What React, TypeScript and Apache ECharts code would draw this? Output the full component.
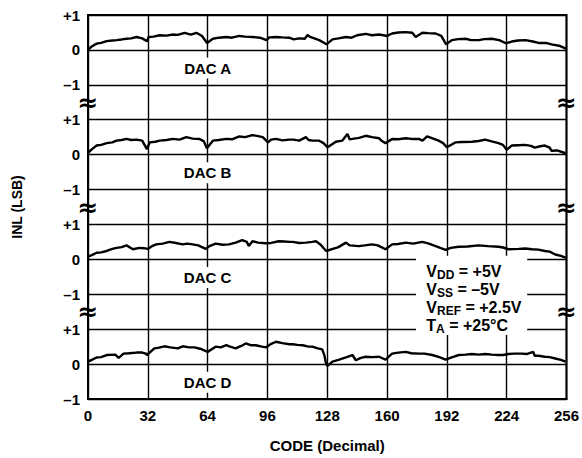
import React, { useEffect, useRef } from "react";
import * as echarts from "echarts";

const dacNames = ["DAC A", "DAC B", "DAC C", "DAC D"];
const yTickLabels = ["–1", "0", "+1"];
const xMin = 0;
const xMax = 256;
const xStep = 32;

const dacA: number[][] = [
  [0, 0.0], [2, 0.1], [4.6, 0.18], [7, 0.2], [10, 0.25], [13, 0.27], [15.3, 0.28], [18, 0.3], [20.6, 0.32], [23, 0.33],
  [26, 0.37], [29, 0.33], [31.5, 0.25], [32.5, 0.37], [35, 0.38], [38.4, 0.42], [42, 0.41], [45.5, 0.44], [48, 0.43],
  [51.7, 0.49], [55, 0.44], [58, 0.49], [61, 0.4], [63.7, 0.2], [66.8, 0.32], [70, 0.35], [74, 0.37], [77, 0.35],
  [81, 0.4], [84, 0.38], [88, 0.37], [92, 0.35], [95.5, 0.28], [97, 0.36], [100.6, 0.37], [104, 0.36], [107.7, 0.35],
  [110, 0.3], [113, 0.33], [116, 0.32], [117.5, 0.43], [118.5, 0.38], [123.7, 0.28], [127.6, 0.16], [130.8, 0.3],
  [134, 0.33], [138, 0.37], [141, 0.35], [144, 0.42], [148.6, 0.46], [152, 0.42], [155.7, 0.44], [158, 0.42], [160, 0.4],
  [162.7, 0.47], [166, 0.5], [170, 0.51], [173.5, 0.49], [175.3, 0.37], [178.9, 0.49], [182, 0.48], [186, 0.47],
  [189, 0.4], [191.6, 0.16], [194.7, 0.28], [198, 0.31], [202, 0.32], [205, 0.28], [209, 0.28], [212, 0.31], [216, 0.32],
  [220, 0.28], [223.6, 0.19], [226.7, 0.24], [230, 0.27], [234, 0.28], [238, 0.24], [241, 0.2], [245, 0.2], [248, 0.16],
  [252, 0.12], [256, 0.03],
];

const dacB: number[][] = [
  [0, 0.05], [2, 0.15], [4.6, 0.26], [7, 0.28], [10, 0.33], [13, 0.35], [15.3, 0.4], [18, 0.42], [20.6, 0.45], [23, 0.42],
  [26, 0.43], [29, 0.4], [31.5, 0.16], [33, 0.35], [36, 0.37], [38.4, 0.4], [42, 0.42], [45.5, 0.45], [49, 0.43],
  [52.6, 0.5], [56, 0.46], [59.7, 0.45], [62, 0.38], [63.6, 0.18], [66.8, 0.4], [70, 0.42], [74, 0.45], [77, 0.44],
  [81, 0.52], [84, 0.5], [88, 0.56], [91, 0.53], [93.5, 0.5], [96.3, 0.35], [98, 0.43], [100.6, 0.45], [104, 0.41],
  [107.7, 0.43], [110, 0.43], [113, 0.4], [116.6, 0.5], [118, 0.42], [120, 0.4], [123.7, 0.4], [126, 0.33], [128.2, 0.21],
  [132.6, 0.37], [136, 0.4], [138.8, 0.59], [140, 0.44], [141.5, 0.45], [145, 0.48], [148.6, 0.54], [152, 0.5],
  [155.7, 0.47], [157, 0.4], [159.2, 0.33], [162.7, 0.45], [166, 0.44], [170, 0.47], [173, 0.45], [177, 0.45], [179, 0.4],
  [181.4, 0.52], [184, 0.47], [187.6, 0.4], [190, 0.33], [192, 0.21], [196.5, 0.35], [200, 0.36], [205.4, 0.37],
  [209, 0.39], [212.5, 0.43], [216, 0.38], [219.6, 0.33], [222, 0.28], [224, 0.14], [226.7, 0.26], [230, 0.27],
  [233.8, 0.28], [237, 0.25], [239, 0.2], [242, 0.24], [244.4, 0.26], [247, 0.2], [248, 0.11], [251, 0.12], [255.5, 0.04],
];

const dacC: number[][] = [
  [0, 0.08], [2, 0.12], [4.6, 0.19], [7, 0.2], [10, 0.24], [13, 0.3], [15.3, 0.33], [18, 0.35], [20.6, 0.4], [24, 0.29],
  [27.5, 0.33], [30, 0.32], [32, 0.3], [34, 0.37], [36.5, 0.43], [40, 0.45], [43.6, 0.5], [47, 0.47], [50.7, 0.43],
  [53, 0.45], [56, 0.43], [59, 0.4], [63, 0.3], [65, 0.38], [68.3, 0.45], [72, 0.42], [75.4, 0.43], [79, 0.48],
  [82.5, 0.55], [85, 0.5], [86, 0.38], [88, 0.52], [91, 0.48], [95, 0.46], [98, 0.47], [102, 0.52], [105, 0.51],
  [107.7, 0.5], [109.5, 0.5], [113, 0.47], [116.6, 0.48], [120, 0.5], [122, 0.52], [124.5, 0.42], [127.4, 0.24],
  [131, 0.3], [134, 0.35], [138, 0.48], [140, 0.4], [145, 0.38], [148, 0.4], [152, 0.43], [155, 0.4], [159.2, 0.29],
  [162.7, 0.43], [166, 0.44], [170, 0.48], [174, 0.45], [178.8, 0.5], [182, 0.46], [186, 0.38], [191.3, 0.27], [194, 0.33],
  [198.4, 0.36], [203, 0.37], [209, 0.4], [214, 0.38], [219.6, 0.36], [222, 0.34], [225, 0.29], [230.4, 0.3], [234, 0.31],
  [237.5, 0.29], [241, 0.28], [244.4, 0.24], [247, 0.22], [250, 0.14], [253, 0.1], [255.5, 0.05],
];

const dacD: number[][] = [
  [0, 0.07], [2, 0.12], [4.6, 0.19], [7, 0.2], [10, 0.26], [14.6, 0.27], [16.4, 0.18], [19, 0.3], [22, 0.31], [26, 0.33],
  [29, 0.33], [31, 0.3], [31.5, 0.26], [35.5, 0.45], [38, 0.47], [40.9, 0.51], [44, 0.48], [48, 0.45], [50.7, 0.51],
  [54, 0.48], [56.9, 0.48], [60, 0.44], [64, 0.35], [68.3, 0.5], [71, 0.48], [74, 0.54], [76, 0.5], [79, 0.45], [82, 0.52],
  [84.4, 0.59], [87, 0.54], [89.8, 0.54], [93, 0.5], [95.3, 0.48], [98, 0.58], [100.6, 0.64], [104, 0.6], [107.7, 0.57],
  [109.5, 0.57], [112, 0.55], [114.8, 0.54], [118, 0.5], [120, 0.5], [123, 0.45], [125.3, 0.42], [126.5, 0.25],
  [127.1, 0.07], [128, -0.06], [130.8, 0.07], [134, 0.12], [138, 0.19], [141.5, 0.26], [143.3, 0.11], [146, 0.18],
  [148.6, 0.21], [152, 0.2], [155.7, 0.21], [159.2, 0.13], [162.7, 0.3], [166, 0.33], [170, 0.35], [173, 0.31], [177, 0.3],
  [180, 0.3], [184.2, 0.26], [188, 0.2], [191.3, 0.13], [195, 0.2], [198.4, 0.26], [202, 0.27], [205.4, 0.29], [209, 0.27],
  [212.5, 0.29], [216, 0.27], [219.6, 0.26], [222, 0.26], [224.9, 0.29], [228, 0.3], [232, 0.3], [235, 0.29],
  [238.2, 0.35], [239, 0.24], [241, 0.24], [244.4, 0.21], [247, 0.2], [250, 0.16], [253, 0.12], [255.5, 0.07],
];

const conditionLines: [string, string, string][] = [
  ["V", "DD", " = +5V"],
  ["V", "SS", " = –5V"],
  ["V", "REF", " = +2.5V"],
  ["T", "A", " = +25°C"],
];

const FONT = "'Liberation Sans', Arial, Helvetica, sans-serif";

export default function App() {
  const ref = useRef<HTMLDivElement>(null);
  useEffect(() => {
    const chart = echarts.init(ref.current!, null, { renderer: "svg" });
    const panels = [dacA, dacB, dacC, dacD];
    // each panel spans 3 grid units (−1..+1 plus a break gap); zero levels in the shared axis
    const zeros = [10, 7, 4, 1];
    const series = panels.map((d, i) => ({
      type: "line",
      name: dacNames[i],
      data: d.map(([x, y]) => [x, y + zeros[i]]),
      symbol: "none",
      silent: true,
      z: 5,
      lineStyle: { color: "#000", width: 2.4 },
    }));
    chart.setOption({
      animation: false,
      backgroundColor: "#fff",
      grid: { left: 88, right: 14, top: 15, bottom: 59, show: true, borderColor: "#000", borderWidth: 2, backgroundColor: "transparent" },
      xAxis: {
        type: "value",
        min: xMin,
        max: xMax,
        interval: xStep,
        name: "CODE (Decimal)",
        nameLocation: "middle",
        nameGap: 39,
        nameTextStyle: { fontFamily: FONT, fontWeight: "bold", fontSize: 15, color: "#000" },
        axisLine: { show: true, lineStyle: { color: "#000", width: 2 } },
        axisTick: { show: false },
        axisLabel: { fontFamily: FONT, fontWeight: "bold", fontSize: 15, color: "#000", margin: 9 },
        splitLine: { show: true, lineStyle: { color: "#000", width: 1.4 } },
      },
      yAxis: {
        type: "value",
        min: 0,
        max: 11,
        interval: 1,
        name: "INL (LSB)",
        nameLocation: "middle",
        nameRotate: 90,
        nameGap: 64,
        nameTextStyle: { fontFamily: FONT, fontWeight: "bold", fontSize: 14, color: "#000" },
        axisLine: { show: true, lineStyle: { color: "#000", width: 2 } },
        axisTick: { show: false },
        axisLabel: {
          fontFamily: FONT,
          fontWeight: "bold",
          fontSize: 15,
          color: "#000",
          margin: 8,
          formatter: (v: number) => yTickLabels[Math.round(v) % 3],
        },
        splitLine: { show: true, lineStyle: { color: "#000", width: 1.4 } },
      },
      series,
    });

    const px = (x: number, y: number) => chart.convertToPixel({ gridIndex: 0 }, [x, y]) as number[];
    const graphic: any[] = [];
    // break marks
    [2.5, 5.5, 8.5].forEach((b) => {
      [xMin, xMax].forEach((xv) => {
        const p = px(xv, b);
        graphic.push({
          type: "text",
          x: p[0],
          y: p[1],
          z: 10,
          style: {
            text: "≈",
            fontFamily: "'DejaVu Sans', sans-serif",
            fontSize: 25,
            fontWeight: "bold",
            fill: "#000",
            align: "center",
            verticalAlign: "middle",
          },
        });
      });
    });
    // DAC labels
    dacNames.forEach((n, i) => {
      const p = px(64, zeros[i] - 0.52);
      graphic.push({
        type: "text",
        x: p[0],
        y: p[1],
        z: 3,
        style: {
          text: n,
          fontFamily: FONT,
          fontWeight: "bold",
          fontSize: 15,
          fill: "#000",
          align: "center",
          verticalAlign: "middle",
          backgroundColor: "#fff",
          padding: [3, 6, 3, 6],
        },
      });
    });
    // conditions box
    const tl = px(175.5, 4.1);
    const br = px(235, 1.83);
    graphic.push({
      type: "rect",
      z: 3,
      shape: { x: tl[0], y: tl[1], width: br[0] - tl[0], height: br[1] - tl[1] },
      style: { fill: "#fff" },
    });
    const c0 = px(181, 3.66);
    conditionLines.forEach((l, i) => {
      graphic.push({
        type: "text",
        x: c0[0],
        y: c0[1] + i * 18,
        z: 6,
        style: {
          text: `{m|${l[0]}}{s|${l[1]}}{m|${l[2]}}`,
          align: "left",
          verticalAlign: "middle",
          rich: {
            m: { fontFamily: FONT, fontWeight: "bold", fontSize: 16, fill: "#000", lineHeight: 20, verticalAlign: "middle" },
            s: { fontFamily: FONT, fontWeight: "bold", fontSize: 12, fill: "#000", lineHeight: 12, verticalAlign: "bottom" },
          },
        },
      });
    });
    chart.setOption({ graphic });
    return () => chart.dispose();
  }, []);
  return <div ref={ref} style={{ position: "absolute", left: 0, top: 0, width: 582, height: 458 }} />;
}
